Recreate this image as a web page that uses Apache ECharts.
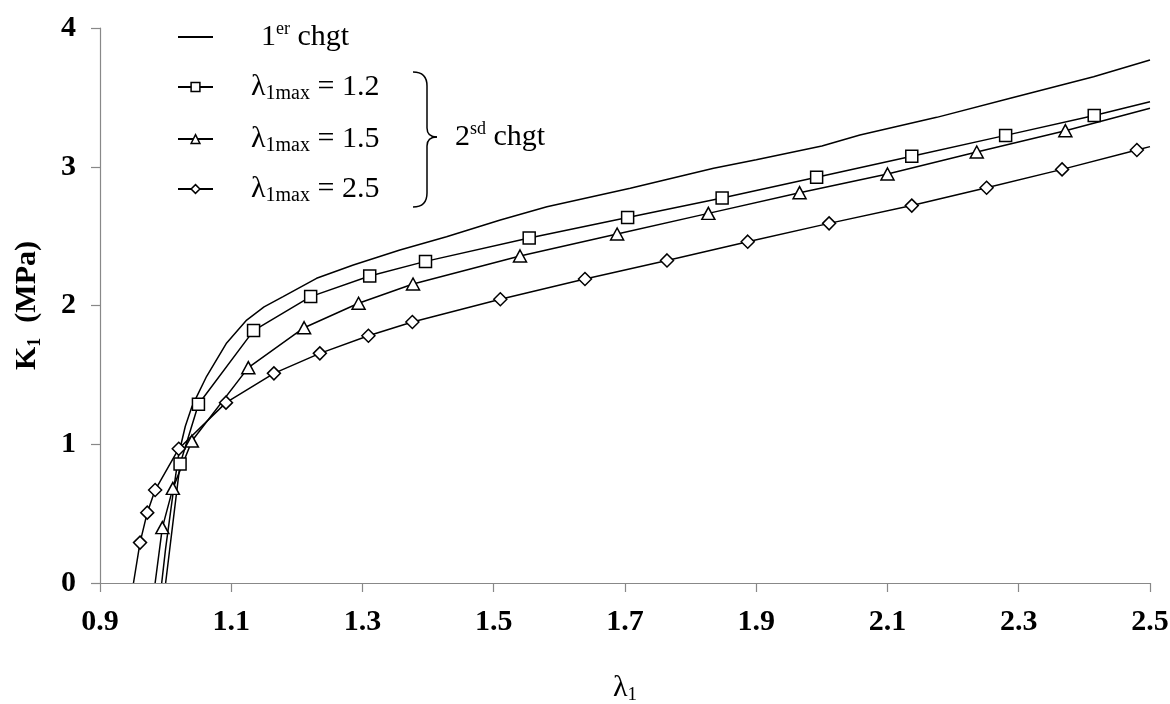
<!DOCTYPE html>
<html>
<head>
<meta charset="utf-8">
<script src="https://cdn.jsdelivr.net/npm/echarts@6/dist/echarts.min.js"></script>
<style>
html,body{margin:0;padding:0;background:#fff;}
#chart{width:1170px;height:704px;}
</style>
</head>
<body>
<div id="chart"></div>
<script>
// ---- data ----
const xTicks = [0.9, 1.1, 1.3, 1.5, 1.7, 1.9, 2.1, 2.3, 2.5];
const yTicks = [0, 1, 2, 3, 4];

const xFirst = [0.994, 1.0, 1.01, 1.02, 1.03, 1.04, 1.047, 1.0625, 1.093, 1.1235, 1.15, 1.179, 1.23, 1.286, 1.357, 1.428, 1.51, 1.581, 1.708, 1.835, 1.9, 2.0, 2.058, 2.175, 2.287, 2.414, 2.5];
const yFirst = [0, 0.25, 0.6, 0.93, 1.13, 1.27, 1.34, 1.49, 1.73, 1.895, 1.99, 2.064, 2.196, 2.292, 2.40, 2.496, 2.616, 2.712, 2.845, 2.989, 3.05, 3.15, 3.229, 3.356, 3.493, 3.649, 3.77];

const xL12 = [1.0, 1.022, 1.050, 1.134, 1.221, 1.311, 1.396, 1.554, 1.704, 1.848, 1.992, 2.137, 2.280, 2.415, 2.5];
const yL12 = [0, 0.858, 1.288, 1.819, 2.064, 2.213, 2.318, 2.486, 2.635, 2.775, 2.924, 3.075, 3.226, 3.370, 3.469];

const xL15 = [0.984, 0.995, 1.011, 1.040, 1.126, 1.211, 1.294, 1.377, 1.540, 1.688, 1.827, 1.966, 2.100, 2.236, 2.371, 2.5];
const yL15 = [0, 0.399, 0.682, 1.023, 1.552, 1.840, 2.016, 2.155, 2.357, 2.515, 2.664, 2.813, 2.948, 3.106, 3.260, 3.421];

const xL25 = [0.951, 0.961, 0.972, 0.984, 1.020, 1.092, 1.165, 1.235, 1.309, 1.376, 1.510, 1.639, 1.764, 1.887, 2.011, 2.137, 2.251, 2.366, 2.480, 2.5];
const yL25 = [0, 0.291, 0.507, 0.670, 0.968, 1.30, 1.511, 1.655, 1.782, 1.881, 2.045, 2.191, 2.325, 2.460, 2.592, 2.720, 2.849, 2.981, 3.121, 3.145];

const seriesNames = ['1er chgt', 'λ1max = 1.2', 'λ1max = 1.5', 'λ1max = 2.5'];
const legendTexts = {
  '1er chgt': '{sp1| }{t|1}{sup|er}{t| chgt}',
  'λ1max = 1.2': '{sp| }{t|λ}{sub|1max}{t| = 1.2}',
  'λ1max = 1.5': '{sp| }{t|λ}{sub|1max}{t| = 1.5}',
  'λ1max = 2.5': '{sp| }{t|λ}{sub|1max}{t| = 2.5}'
};

// ---- build chart ----
const FONT = 'Liberation Serif';
function pairs(xs, ys, markerEnds) {
  return xs.map((x, i) => {
    const item = { value: [x, ys[i]] };
    if (markerEnds && (i === 0 || i === xs.length - 1)) item.symbol = 'none';
    return item;
  });
}
const lineStyle = { color: '#000', width: 1.5 };
const markerStyle = { color: '#fff', borderColor: '#000', borderWidth: 1.5 };

const rich = {
  t: { fontFamily: FONT, fontSize: 30, color: '#000', lineHeight: 34 },
  sup: { fontFamily: FONT, fontSize: 18, color: '#000', verticalAlign: 'top', lineHeight: 24 },
  sub: { fontFamily: FONT, fontSize: 20, color: '#000', verticalAlign: 'bottom', lineHeight: 22 },
  sp: { width: 33, fontSize: 30, lineHeight: 34 },
  sp1: { width: 43, fontSize: 30, lineHeight: 34 }
};

const rowCenters = [37, 89, 141, 191];
const legends = seriesNames.map((n, i) => {
  const lg = {
    data: [n],
    left: 177,
    top: rowCenters[i] - 17,
    padding: 0,
    itemWidth: 35,
    itemHeight: 11,
    selectedMode: false,
    formatter: nm => legendTexts[nm],
    textStyle: { rich: rich, fontFamily: FONT, fontSize: 30, color: '#000' }
  };
  if (i === 0) lg.itemStyle = { opacity: 0 };
  else lg.itemStyle = { color: '#fff', borderColor: '#000', borderWidth: 1.5 };
  return lg;
});

const option = {
  backgroundColor: '#fff',
  animation: false,
  legend: legends,
  grid: { left: 100, right: 20, top: 28, bottom: 121, outerBoundsMode: 'none' },
  xAxis: {
    type: 'value',
    min: xTicks[0],
    max: xTicks[xTicks.length - 1],
    interval: 0.2,
    name: '{t|λ}{s|1}',
    nameLocation: 'middle',
    nameGap: 88,
    nameTextStyle: {
      rich: {
        t: { fontFamily: FONT, fontSize: 30, color: '#000', lineHeight: 34 },
        s: { fontFamily: FONT, fontSize: 19, color: '#000', verticalAlign: 'bottom', lineHeight: 22 }
      }
    },
    axisLine: { lineStyle: { color: '#888', width: 1.2 } },
    axisTick: { show: true, length: 9, lineStyle: { color: '#888', width: 1.2 } },
    splitLine: { show: false },
    axisLabel: {
      margin: 24,
      fontFamily: FONT, fontSize: 30, fontWeight: 'bold', color: '#000',
      formatter: v => Number(v).toFixed(1)
    }
  },
  yAxis: {
    type: 'value',
    min: yTicks[0],
    max: yTicks[yTicks.length - 1],
    interval: 1,
    name: '{t|K}{s|1}{t|  (MPa)}',
    nameLocation: 'middle',
    nameGap: 56,
    nameRotate: 90,
    nameTextStyle: {
      rich: {
        t: { fontFamily: FONT, fontSize: 30, fontWeight: 'bold', color: '#000', lineHeight: 34 },
        s: { fontFamily: FONT, fontSize: 18, fontWeight: 'bold', color: '#000', verticalAlign: 'bottom', lineHeight: 22 }
      }
    },
    axisLine: { show: true, lineStyle: { color: '#888', width: 1.2 } },
    axisTick: { show: true, length: 9, lineStyle: { color: '#888', width: 1.2 } },
    splitLine: { show: false },
    axisLabel: {
      margin: 24,
      fontFamily: FONT, fontSize: 30, fontWeight: 'bold', color: '#000'
    }
  },
  series: [
    {
      name: seriesNames[0], type: 'line', showSymbol: false, symbol: 'none',
      lineStyle: lineStyle, itemStyle: { color: '#000' },
      data: pairs(xFirst, yFirst, false), z: 2
    },
    {
      name: seriesNames[1], type: 'line', symbol: 'rect', symbolSize: 12,
      lineStyle: lineStyle, itemStyle: markerStyle,
      data: pairs(xL12, yL12, true), z: 3
    },
    {
      name: seriesNames[2], type: 'line', symbol: 'triangle', symbolSize: [13, 12],
      lineStyle: lineStyle, itemStyle: markerStyle,
      data: pairs(xL15, yL15, true), z: 3
    },
    {
      name: seriesNames[3], type: 'line', symbol: 'diamond', symbolSize: 13,
      lineStyle: lineStyle, itemStyle: markerStyle,
      data: pairs(xL25, yL25, true), z: 3
    }
  ],
  graphic: [
    { type: 'bezierCurve', shape: { x1: 413, y1: 72, x2: 427, y2: 86, cpx1: 427, cpy1: 72 }, style: { stroke: '#000', lineWidth: 1.5, fill: null } },
    { type: 'line', shape: { x1: 427, y1: 86, x2: 427, y2: 128 }, style: { stroke: '#000', lineWidth: 1.5 } },
    { type: 'bezierCurve', shape: { x1: 427, y1: 128, x2: 437, y2: 137, cpx1: 427, cpy1: 137 }, style: { stroke: '#000', lineWidth: 1.5, fill: null } },
    { type: 'bezierCurve', shape: { x1: 437, y1: 137, x2: 427, y2: 146, cpx1: 427, cpy1: 137 }, style: { stroke: '#000', lineWidth: 1.5, fill: null } },
    { type: 'line', shape: { x1: 427, y1: 146, x2: 427, y2: 193 }, style: { stroke: '#000', lineWidth: 1.5 } },
    { type: 'bezierCurve', shape: { x1: 427, y1: 193, x2: 413, y2: 207, cpx1: 427, cpy1: 207 }, style: { stroke: '#000', lineWidth: 1.5, fill: null } },
    {
      type: 'text', x: 455, y: 137,
      style: {
        text: '{t|2}{sup|sd}{t| chgt}',
        rich: rich,
        verticalAlign: 'middle',
        align: 'left'
      }
    }
  ]
};

const chart = echarts.init(document.getElementById('chart'), null, { renderer: 'canvas' });
chart.setOption(option);
</script>
</body>
</html>
